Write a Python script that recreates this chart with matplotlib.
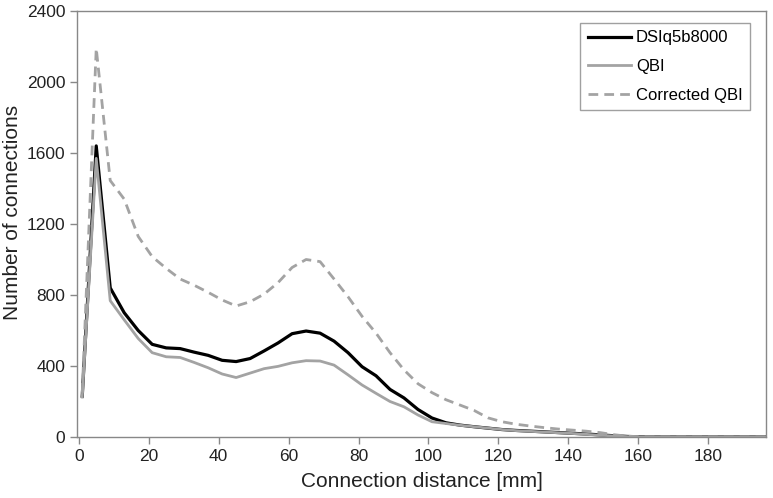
import matplotlib.pyplot as plt
import numpy as np

plt.rcParams['font.family'] = ['Liberation Sans', 'DejaVu Sans']

# connection distance [mm], sampled every 4 mm
distance = list(range(1, 198, 4))

dsi = [230, 1640, 840, 700, 600, 522, 502, 498, 478, 460, 432, 425, 442, 485, 530, 582,
       597, 585, 540, 475, 396, 345, 268, 220, 155, 107, 80, 67, 58, 50, 42, 37,
       33, 29, 25, 21, 17, 12, 7, 3, 1, 0, 0, 0, 0, 0, 0, 0, 0, 0]

qbi = [225, 1570, 768, 660, 555, 475, 452, 448, 420, 390, 355, 335, 360, 385, 398, 418,
       430, 428, 405, 350, 293, 246, 200, 170, 124, 86, 76, 66, 58, 50, 42, 36,
       32, 28, 24, 20, 15, 10, 6, 2, 1, 0, 0, 0, 0, 0, 0, 0, 0, 0]

corrected_qbi = [250, 2190, 1445, 1340, 1130, 1016, 950, 890, 855, 815, 772, 738, 762, 805, 870, 955,
                 1000, 988, 890, 790, 680, 585, 475, 378, 300, 250, 210, 180, 150, 108, 86, 72,
                 62, 53, 45, 39, 33, 25, 13, 4, 1, 0, 0, 0, 0, 0, 0, 0, 0, 0]

fig = plt.figure(figsize=(7.73, 4.98), dpi=100)
ax = fig.add_axes([77 / 773, 61 / 498, (766 - 77) / 773, (437 - 11) / 498])

ax.plot(distance, dsi, color='black', lw=2.3, label='DSIq5b8000')
ax.plot(distance, qbi, color='#a3a3a3', lw=2.0, label='QBI')
ax.plot(distance, corrected_qbi, color='#a3a3a3', lw=2.0, ls=(0, (3.5, 2.2)), label='Corrected QBI')

ax.set_xlim(-0.5, 196.5)
ax.set_ylim(0, 2400)
ax.set_xticks(range(0, 181, 20))
ax.set_yticks(range(0, 2401, 400))
ax.tick_params(direction='out', length=5, width=1, color='#888888', labelsize=12.5, labelcolor='#222222')

for s in ax.spines.values():
    s.set_color('#888888')
    s.set_linewidth(1)

ax.set_xlabel('Connection distance [mm]', fontsize=15, color='#222222', labelpad=6)
ax.set_ylabel('Number of connections', fontsize=15, color='#222222')
ax.yaxis.set_label_coords(-0.08, 0.528)

leg = ax.legend(loc='upper right', bbox_to_anchor=(0.977, 0.972), borderaxespad=0, fontsize=12,
                frameon=True, fancybox=False, edgecolor='#888888', handlelength=2.6,
                handletextpad=0.3, borderpad=0.45, labelspacing=0.82)
leg.get_frame().set_linewidth(1)

fig.savefig('out.png', dpi=100)
